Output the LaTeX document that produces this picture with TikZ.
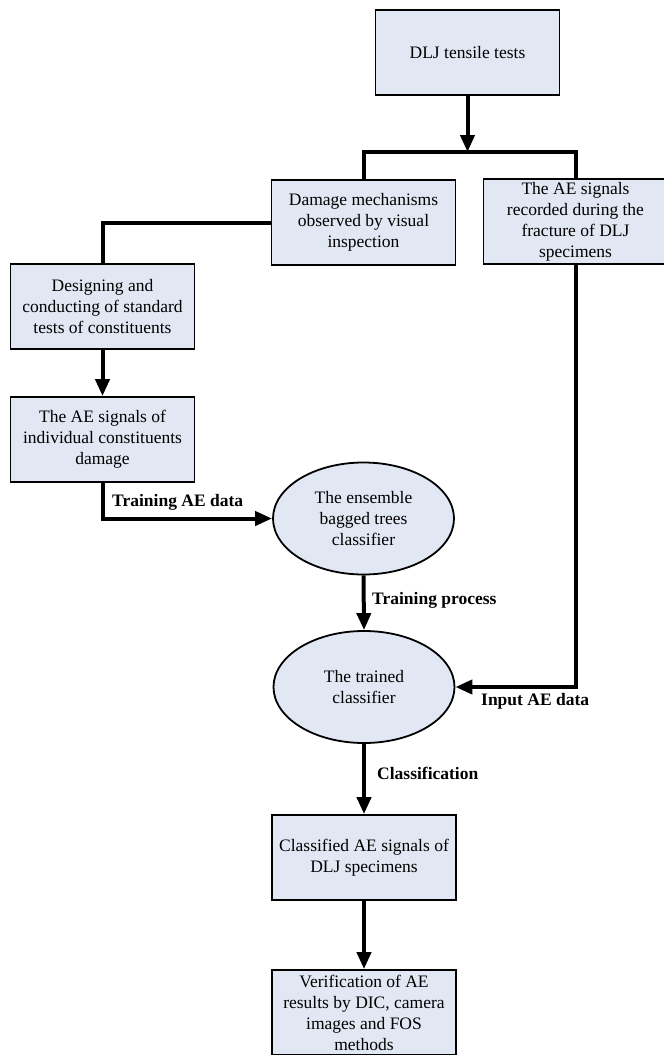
\documentclass[tikz,border=0pt]{standalone}
\usepackage{fontspec}
\setmainfont{Liberation Serif}
\usetikzlibrary{arrows.meta,shapes.geometric}
\definecolor{boxfill}{RGB}{226,232,243}
\begin{document}
\begin{tikzpicture}[x=1pt,y=-1pt,
  box/.style={draw=black,line width=1.8pt,fill=boxfill,minimum width=184pt,minimum height=85pt,inner sep=0pt,align=center,font=\fontsize{17.5}{21}\selectfont},
  ell/.style={ellipse,draw=black,line width=1.8pt,fill=boxfill,minimum width=181pt,minimum height=112pt,inner sep=0pt,align=center,font=\fontsize{17.5}{21}\selectfont},
  conn/.style={line width=4pt},
  arr/.style={conn,-{Triangle[length=17pt,width=14pt]}},
  lbl/.style={font=\fontsize{17.5}{21}\selectfont\bfseries,inner sep=0pt,anchor=west}]
\useasboundingbox (0,0) rectangle (664,1055);
\node[box] (dlj) at (467.5,52.5) {DLJ tensile tests};
\node[box] (dmg) at (363.5,222.5) {Damage mechanisms\\observed by visual\\inspection};
\node[box] (ae) at (575.5,221.5) {The AE signals\\recorded during the\\fracture of DLJ\\specimens};
\node[box] (des) at (102.5,306.5) {Designing and\\conducting of standard\\tests of constituents};
\node[box] (ind) at (102.5,439.5) {The AE signals of\\individual constituents\\damage};
\node[ell] (e1) at (363.5,518.5) {The ensemble\\bagged trees\\classifier};
\node[ell] (e2) at (364,687) {The trained\\classifier};
\node[box] (cls) at (364,857.5) {Classified AE signals of\\DLJ specimens};
\node[box] (ver) at (364,1012.5) {Verification of AE\\results by DIC, camera\\images and FOS\\methods};
\coordinate (split) at (467.5,152);
\draw[arr] (dlj.south) -- (split);
\draw[conn] (dmg.north) |- (split) -| (ae.north);
\draw[conn] (dmg.west) -| (des.north);
\draw[arr] (des.south) -- (ind.north);
\draw[arr] (ind.south) |- (e1.west);
\draw[arr] (e1.south) -- (e2.north);
\draw[arr] (ae.south) |- (e2.east);
\draw[arr] (e2.south) -- (cls.north);
\draw[arr] (cls.south) -- (ver.north);
\node[lbl] (l1) at (112,502) {Training AE data};
\node[lbl] (l2) at (372,600) {Training process};
\node[lbl] (l3) at (481,701) {Input AE data};
\node[lbl] (l4) at (377,773) {Classification};
\end{tikzpicture}
\end{document}
